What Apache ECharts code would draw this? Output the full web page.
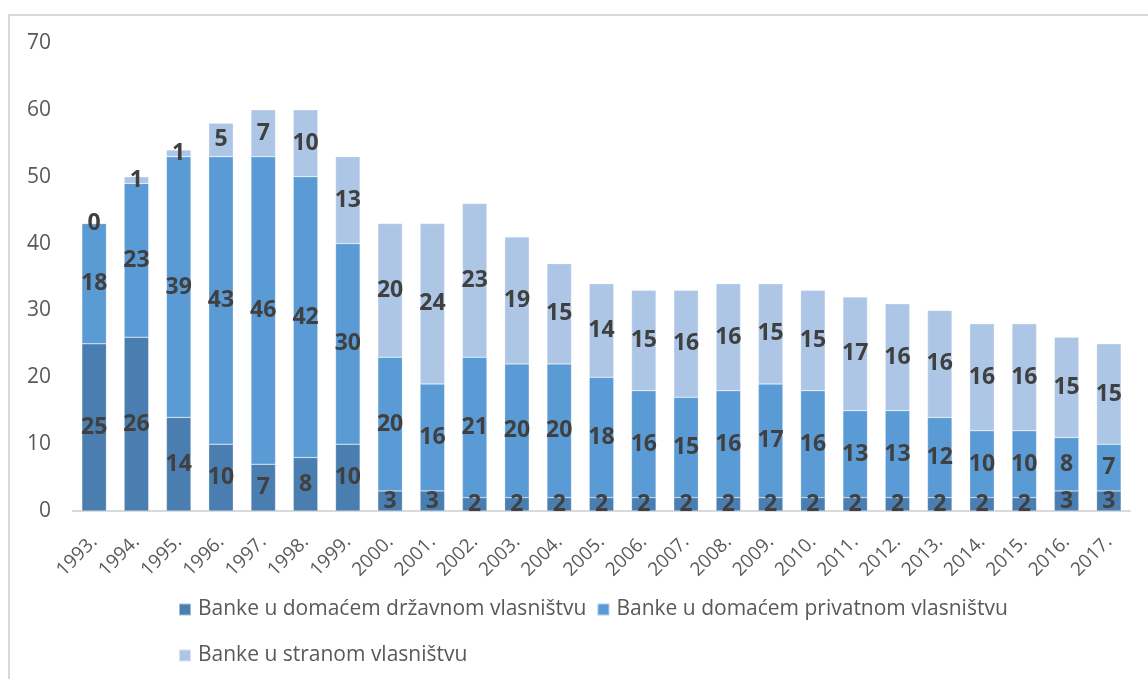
<!DOCTYPE html>
<html>
<head>
<meta charset="utf-8">
<script src="https://cdn.jsdelivr.net/npm/echarts@6/dist/echarts.min.js"></script>
<style>
    html, body { margin: 0; padding: 0; background: #fff; }
    #frame { position: absolute; left: 8px; top: 14px; width: 1160px; height: 700px; border: 2px solid #d9d9d9; box-sizing: border-box; }
    #charts { position: absolute; left: 0; top: 0; width: 1148px; height: 679px; }
</style>
</head>
<body>
<div id="frame"></div>
<div id="charts"></div>
<script>
var years = ['1993.', '1994.', '1995.', '1996.', '1997.', '1998.', '1999.', '2000.', '2001.', '2002.', '2003.', '2004.', '2005.',
    '2006.', '2007.', '2008.', '2009.', '2010.', '2011.', '2012.', '2013.', '2014.', '2015.', '2016.', '2017.'];
var seriesNames = ['Banke u domaćem državnom vlasništvu', 'Banke u domaćem privatnom vlasništvu', 'Banke u stranom vlasništvu'];
var stateBanks = [25, 26, 14, 10, 7, 8, 10, 3, 3, 2, 2, 2, 2, 2, 2, 2, 2, 2, 2, 2, 2, 2, 2, 3, 3];
var privateBanks = [18, 23, 39, 43, 46, 42, 30, 20, 16, 21, 20, 20, 18, 16, 15, 16, 17, 16, 13, 13, 12, 10, 10, 8, 7];
var foreignBanks = [0, 1, 1, 5, 7, 10, 13, 20, 24, 23, 19, 15, 14, 15, 16, 16, 15, 15, 17, 16, 16, 16, 16, 15, 15];
var colors = ['#4a7eb0', '#5b9bd5', '#adc6e6'];

var font = 'Open Sans';

function barSeries(i, data) {
    return {
        name: seriesNames[i],
        type: 'bar',
        stack: 'total',
        barWidth: '58%',
        data: data,
        itemStyle: { color: colors[i], borderColor: 'rgba(255,255,255,0.5)', borderWidth: 0.5 },
        label: {
            show: true,
            position: 'inside',
            color: '#404040',
            fontWeight: 'bold',
            fontSize: 23,
            fontFamily: font
        }
    };
}

var legendText = { color: '#595959', fontSize: 21, fontFamily: font, padding: [0, 0, 0, 2] };

var myChart = echarts.init(document.getElementById('charts'));
var option = {
    animation: false,
    color: colors,
    textStyle: { fontFamily: font },
    legend: [{
        data: [seriesNames[0], seriesNames[1]],
        left: 173,
        top: 594,
        itemWidth: 12,
        itemHeight: 12,
        itemGap: 10,
        icon: 'rect',
        textStyle: legendText
    }, {
        data: [seriesNames[2]],
        left: 173,
        top: 640,
        itemWidth: 12,
        itemHeight: 12,
        icon: 'rect',
        textStyle: legendText
    }],
    grid: {
        left: 73,
        right: 18,
        top: 43,
        bottom: 168
    },
    xAxis: {
        type: 'category',
        data: years,
        axisLine: { lineStyle: { color: '#d9d9d9', width: 2 } },
        axisTick: { show: false },
        axisLabel: {
            rotate: 45,
            color: '#595959',
            fontSize: 19,
            margin: 28,
            interval: 0
        }
    },
    yAxis: {
        type: 'value',
        min: 0,
        max: 70,
        interval: 10,
        splitLine: { show: false },
        axisLine: { show: false },
        axisTick: { show: false },
        axisLabel: { color: '#595959', fontSize: 21, margin: 22 }
    },
    series: [
        barSeries(0, stateBanks),
        barSeries(1, privateBanks),
        barSeries(2, foreignBanks)
    ]
};
myChart.setOption(option);
</script>
</body>
</html>
